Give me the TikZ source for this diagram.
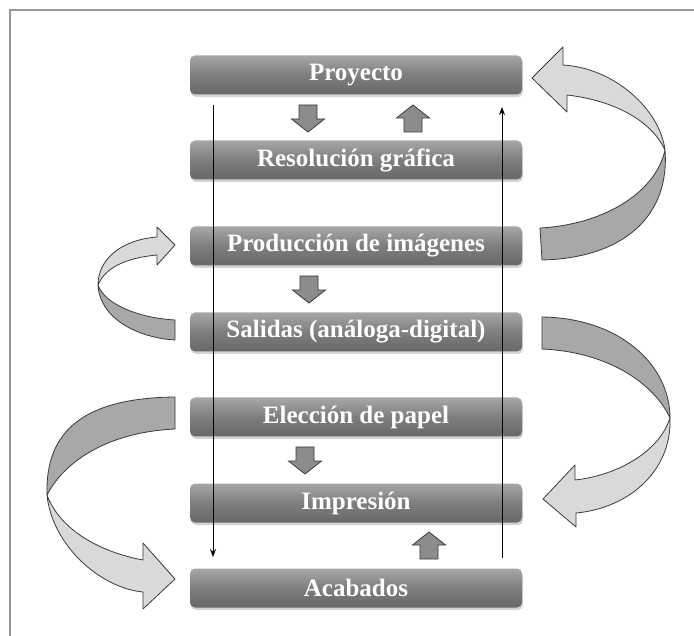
\documentclass[tikz,border=0pt]{standalone}
\usepackage{fontspec}
\setmainfont{Liberation Serif}
\usetikzlibrary{shadows,arrows.meta}
\definecolor{bandlight}{HTML}{D9D9D9}
\definecolor{banddark}{HTML}{A8A8A8}
\definecolor{edge}{HTML}{3A3A3A}
\definecolor{boxtop}{HTML}{A6A6A6}
\definecolor{boxmid}{HTML}{7E7E7E}
\definecolor{boxbot}{HTML}{686868}
\definecolor{blkfill}{HTML}{8C8C8C}
\begin{document}
\begin{tikzpicture}[x=1pt,y=-1pt,
  stepbox/.style={rounded corners=5pt, minimum width=332pt, minimum height=39pt,
    top color=boxtop, bottom color=boxbot, middle color=boxmid,
    text=white, font=\fontsize{25}{28}\selectfont\bfseries, inner sep=0pt,
    drop shadow={opacity=0.35, shadow xshift=1pt, shadow yshift=-2.5pt}},
  lightband/.style={fill=bandlight, draw=edge, line width=0.8pt, line join=round},
  darkband/.style={fill=banddark, draw=edge, line width=0.8pt, line join=round},
  blk/.style={fill=blkfill, draw=edge, line width=0.8pt, line join=miter},
  flow/.style={draw=black, line width=0.9pt, -{Stealth[length=8pt,width=6pt]}},
  frame/.style={draw=gray!80, line width=1.2pt}]
\useasboundingbox (0,0) rectangle (694,636);
% frame (top and left edges)
\draw[frame] (10,636) -- (10,10) -- (694,10);

% boxes
\node[stepbox] (p1) at (356,75)  {Proyecto};
\node[stepbox] (p2) at (356,160) {Resolución gráfica};
\node[stepbox] (p3) at (356,246) {Producción de imágenes};
\node[stepbox] (p4) at (356,332) {Salidas (análoga-digital)};
\node[stepbox] (p5) at (356,417) {Elección de papel};
\node[stepbox] (p6) at (356,503) {Impresión};
\node[stepbox] (p7) at (356,588) {Acabados};

% long thin arrows
\coordinate (ls) at (213,105);
\coordinate (le) at (213,557);
\coordinate (rs) at (502,558);
\coordinate (re) at (502,107);
\draw[flow] (ls) -- (le);
\draw[flow] (rs) -- (re);

% small block arrows (down)
\foreach \cx/\ty in {308/105, 309/276, 305/447}{
  \draw[blk] (\cx-9,\ty) -- (\cx+9,\ty) -- (\cx+9,\ty+14) -- (\cx+16.5,\ty+14)
     -- (\cx,\ty+27) -- (\cx-16.5,\ty+14) -- (\cx-9,\ty+14) -- cycle;
}
% small block arrows (up)
\foreach \cx/\ty in {413/105, 429/532}{
  \draw[blk] (\cx,\ty) -- (\cx+16.5,\ty+13) -- (\cx+9,\ty+13) -- (\cx+9,\ty+27)
     -- (\cx-9,\ty+27) -- (\cx-9,\ty+13) -- (\cx-16.5,\ty+13) -- cycle;
}

% curved arrow: Produccion -> Proyecto (right, top)
\draw[darkband] (665,150) .. controls (670,215) and (625,258) .. (542,260)
   -- (540,228) .. controls (600,225) and (655,195) .. (665,150) -- cycle;
\draw[lightband] (563,65) .. controls (615,68) and (660,110) .. (665,150)
   .. controls (650,118) and (610,100) .. (567,95)
   -- (567,112) -- (532,78) -- (563,47) -- cycle;

% curved arrow: Salidas -> Produccion (left, small)
\draw[darkband] (98,285) .. controls (100,320) and (140,338) .. (175,340)
   -- (175,320) .. controls (140,318) and (105,305) .. (98,285) -- cycle;
\draw[lightband] (157,237) .. controls (120,240) and (98,260) .. (98,285)
   .. controls (105,268) and (125,258) .. (157,255)
   -- (157,265) -- (175,245) -- (157,227) -- cycle;

% curved arrow: Salidas -> Impresion (right, lower)
\draw[darkband] (542,317) .. controls (620,318) and (670,365) .. (670,418)
   .. controls (655,385) and (610,352) .. (542,349) -- cycle;
\draw[lightband] (670,418) .. controls (672,470) and (630,508) .. (576,513)
   -- (576,527) -- (543,499) -- (575,465) -- (575,480)
   .. controls (620,475) and (660,450) .. (670,418) -- cycle;

% curved arrow: Eleccion -> Acabados (left, big)
\draw[darkband] (175,397) .. controls (85,398) and (45,430) .. (47,495)
   .. controls (65,460) and (110,432) .. (175,429) -- cycle;
\draw[lightband] (47,495) .. controls (52,545) and (100,588) .. (143,592)
   -- (143,609) -- (175,579) -- (143,543) -- (143,560)
   .. controls (100,552) and (60,530) .. (47,495) -- cycle;
\end{tikzpicture}
\end{document}
